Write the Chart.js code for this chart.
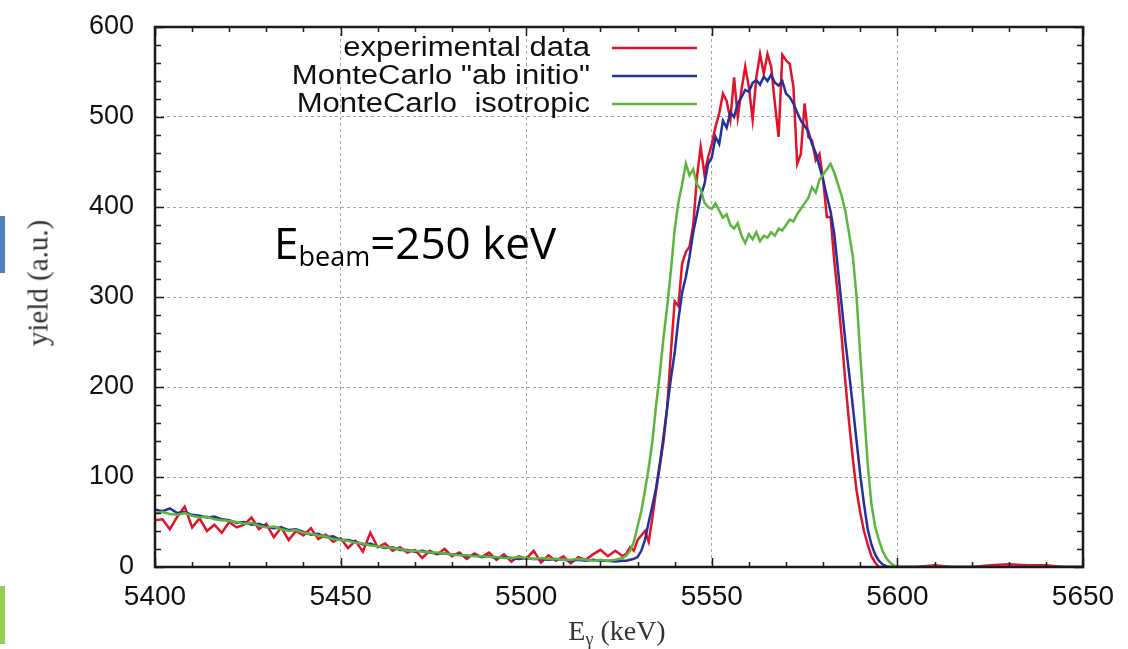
<!DOCTYPE html>
<html>
<head>
<meta charset="utf-8">
<script src="https://cdn.jsdelivr.net/npm/chart.js@4.4.1/dist/chart.umd.min.js"></script>
<style>
  html, body { margin: 0; padding: 0; background: #fff; }
  #wrap { position: relative; width: 1128px; height: 649px; overflow: hidden; }
  #c { position: absolute; left: 0; top: 0; }
  .ytitle { position: absolute; left: 38px; top: 283px; transform: translate(-50%, -50%) rotate(-90deg);
            font: 29px "Liberation Serif", serif; color: #333; white-space: nowrap; }
  .xtitle { position: absolute; left: 617px; top: 632px; transform: translate(-50%, -50%);
            font: 28px "Liberation Serif", serif; color: #333; white-space: nowrap; }
  .xtitle sub { font-size: 18px; vertical-align: -5px; }
  .note { position: absolute; left: 274px; top: 220px; font: 44px "Open Sans", sans-serif; line-height: 44px;
          color: #000; white-space: nowrap; }
  .note .sb { font-size: 27px; vertical-align: -7px; }
  .bar1 { position: absolute; left: 0; top: 216px; width: 5px; height: 57px; background: #4f81bd; }
  .bar2 { position: absolute; left: 0; top: 586px; width: 5px; height: 58px; background: #92d050; }
</style>
</head>
<body>
<div id="wrap">
  <canvas id="c" width="1128" height="649"></canvas>
  <div class="bar1"></div>
  <div class="bar2"></div>
  <div class="ytitle">yield (a.u.)</div>
  <div class="xtitle">E<sub>γ</sub> (keV)</div>
  <div class="note">E<span class="sb">beam</span>=250 keV</div>
</div>
<script>
// photon energy (keV): 2 keV bins on the tail, 1 keV across the peak
const energy = [
  5400, 5402, 5404, 5406, 5408, 5410, 5412, 5414,
  5416, 5418, 5420, 5422, 5424, 5426, 5428, 5430,
  5432, 5434, 5436, 5438, 5440, 5442, 5444, 5446,
  5448, 5450, 5452, 5454, 5456, 5458, 5460, 5462,
  5464, 5466, 5468, 5470, 5472, 5474, 5476, 5478,
  5480, 5482, 5484, 5486, 5488, 5490, 5492, 5494,
  5496, 5498, 5500, 5502, 5504, 5506, 5508, 5510,
  5512, 5514, 5516, 5518, 5520, 5522, 5524, 5526,
  5527, 5528, 5529, 5530, 5531, 5532, 5533, 5534, 5535, 5536,
  5537, 5538, 5539, 5540, 5541, 5542, 5543, 5544, 5545, 5546,
  5547, 5548, 5549, 5550, 5551, 5552, 5553, 5554, 5555, 5556,
  5557, 5558, 5559, 5560, 5561, 5562, 5563, 5564, 5565, 5566,
  5567, 5568, 5569, 5570, 5571, 5572, 5573, 5574, 5575, 5576,
  5577, 5578, 5579, 5580, 5581, 5582, 5583, 5584, 5585, 5586,
  5587, 5588, 5589, 5590, 5591, 5592, 5593, 5594, 5595, 5596,
  5597, 5598, 5599, 5600,
  5605, 5610, 5615, 5620, 5625, 5630, 5635, 5640, 5645, 5650
];

const experimental = [
  52, 53, 42, 56, 67, 44, 54, 40,
  47, 38, 50, 44, 47, 55, 42, 48,
  33, 44, 30, 40, 35, 43, 31, 36,
  28, 32, 21, 29, 17, 38, 22, 26,
  18, 22, 16, 19, 10, 18, 14, 20,
  12, 16, 9, 15, 11, 16, 8, 14,
  6, 12, 9, 18, 5, 13, 7, 12,
  4, 11, 8, 14, 19, 12, 18, 12,
  15, 22, 18, 30, 35, 40, 28, 55, 85, 112,
  140, 178, 240, 295, 290, 337, 350, 356, 380, 433,
  467, 437, 455, 470, 489, 504, 526, 518, 497, 544,
  500, 530, 556, 533, 497, 544, 570, 548, 570, 556,
  515, 478, 569, 563, 559, 533, 448, 459, 515, 478,
  474, 452, 459, 430, 389, 389, 340, 300, 255, 205,
  160, 120, 85, 60, 40, 25, 12, 5, 0, 0,
  0, 0, 0, 0,
  0, 2, 0, 0, 2, 3, 2, 2, 0, 0
];

const abInitio = [
  64, 62, 65, 60, 61, 58, 57, 55,
  56, 53, 52, 49, 50, 47, 48, 45,
  43, 44, 41, 42, 39, 36, 37, 33,
  34, 30, 30, 28, 25, 26, 23, 21,
  22, 19, 19, 17, 18, 16, 15, 15,
  14, 14, 12, 13, 11, 12, 10, 11,
  10, 9, 10, 9, 9, 8, 9, 8,
  7, 8, 7, 8, 7, 7, 6, 7,
  7, 8, 9, 11, 18, 30, 50, 68, 88, 115,
  145, 178, 210, 238, 275, 305, 322, 345, 372, 392,
  412, 425, 448, 455, 478, 470, 496, 488, 505, 500,
  515, 522, 530, 528, 538, 541, 536, 545, 540, 547,
  538, 535, 540, 526, 522, 515, 505, 496, 490, 484,
  470, 460, 445, 430, 412, 395, 370, 330, 290, 250,
  215, 178, 140, 102, 70, 42, 25, 14, 7, 3,
  1, 0, 0, 0,
  0, 0, 0, 0, 0, 0, 0, 0, 0, 0
];

const isotropic = [
  60, 61, 59, 58, 60, 57, 55, 56,
  53, 52, 51, 50, 48, 49, 46, 44,
  45, 42, 40, 41, 38, 37, 35, 34,
  31, 30, 29, 27, 26, 24, 23, 22,
  21, 20, 18, 18, 17, 16, 16, 15,
  14, 13, 13, 12, 12, 11, 11, 10,
  10, 11, 10, 9, 10, 9, 9, 8,
  8, 9, 8, 7, 8, 7, 8, 10,
  13, 18, 28, 45, 62, 85, 110, 140, 180, 215,
  255, 290, 330, 375, 405, 425, 448, 435, 442, 425,
  420, 405, 400, 398, 404, 396, 388, 392, 380, 376,
  382, 368, 360, 370, 364, 372, 362, 368, 366, 372,
  368, 376, 374, 380, 386, 384, 392, 398, 404, 410,
  422, 416, 430, 436, 442, 448, 438, 425, 412, 395,
  370, 345, 300, 235, 175, 115, 70, 45, 30, 18,
  10, 5, 2, 0,
  0, 0, 0, 0, 0, 0, 0, 0, 0, 0
];

const xTickLabels = [5400, 5450, 5500, 5550, 5600, 5650];
const yTickLabels = [0, 100, 200, 300, 400, 500, 600];

const toPoints = ys => ys.map((v, i) => ({ x: energy[i], y: v }));

// gnuplot style frame: inward ticks on all four sides + key with text before the line
const gnuplotFrame = {
  id: 'gnuplotFrame',
  afterDraw(chart) {
    const { ctx, chartArea: a, scales: { x, y } } = chart;
    ctx.save();
    ctx.strokeStyle = '#1a1a1a';
    ctx.lineWidth = 1.5;
    ctx.beginPath();
    x.ticks.forEach(t => {
      const px = Math.round(x.getPixelForValue(t.value)) + 0.5;
      const len = xTickLabels.includes(t.value) ? 9 : 5;
      ctx.moveTo(px, a.bottom); ctx.lineTo(px, a.bottom - len);
      ctx.moveTo(px, a.top); ctx.lineTo(px, a.top + len);
    });
    y.ticks.forEach(t => {
      const py = Math.round(y.getPixelForValue(t.value)) + 0.5;
      const len = yTickLabels.includes(t.value) ? 9 : 6;
      ctx.moveTo(a.left, py); ctx.lineTo(a.left + len, py);
      ctx.moveTo(a.right, py); ctx.lineTo(a.right - len, py);
    });
    ctx.stroke();
    ctx.lineWidth = 2.5;
    ctx.strokeRect(a.left, a.top, a.right - a.left, a.bottom - a.top);

    // key
    const textRight = 590, lineX0 = 612, lineX1 = 697;
    ctx.font = '27px "Liberation Sans", Arial, sans-serif';
    ctx.textAlign = 'right';
    ctx.textBaseline = 'middle';
    chart.data.datasets.forEach((ds, i) => {
      const ly = 48 + i * 28;
      ctx.save();
      ctx.translate(textRight, ly + 1);
      ctx.scale(1.15, 1);
      ctx.fillStyle = '#111';
      ctx.fillText(ds.label, 0, 0);
      ctx.restore();
      ctx.strokeStyle = ds.borderColor;
      ctx.lineWidth = ds.borderWidth;
      ctx.beginPath();
      ctx.moveTo(lineX0, ly);
      ctx.lineTo(lineX1, ly);
      ctx.stroke();
    });
    ctx.restore();
  }
};

const ctx = document.getElementById('c').getContext('2d');
const chart = new Chart(ctx, {
  type: 'line',
  data: {
    datasets: [{
      label: 'experimental data',
      data: toPoints(experimental),
      borderColor: 'rgb(226, 18, 42)',
      borderWidth: 2.5,
      order: 3
    }, {
      label: 'MonteCarlo "ab initio"',
      data: toPoints(abInitio),
      borderColor: 'rgb(36, 48, 156)',
      borderWidth: 2.5,
      order: 2
    }, {
      label: 'MonteCarlo  isotropic',
      data: toPoints(isotropic),
      borderColor: 'rgb(92, 182, 60)',
      borderWidth: 2.5,
      order: 1
    }]
  },
  options: {
    responsive: false,
    animation: false,
    devicePixelRatio: 1,
    layout: { padding: { left: 0, right: 45, top: 27, bottom: 0 } },
    elements: { point: { radius: 0 }, line: { tension: 0 } },
    plugins: { legend: { display: false }, tooltip: { enabled: false } },
    scales: {
      x: {
        type: 'linear',
        min: 5400,
        max: 5650,
        afterFit: s => { s.height = 82; },
        border: { display: false, dash: [3, 3] },
        grid: {
          drawTicks: false,
          lineWidth: 1,
          color: c => (xTickLabels.includes(c.tick.value) && c.tick.value !== 5400 && c.tick.value !== 5650) ? '#a6a6a6' : 'rgba(0,0,0,0)'
        },
        ticks: {
          stepSize: 10,
          maxTicksLimit: 100,
          autoSkip: false,
          maxRotation: 0,
          padding: 13,
          color: '#111',
          font: { family: '"Liberation Sans", Arial, sans-serif', size: 28 },
          callback: v => xTickLabels.includes(v) ? String(v) : ''
        }
      },
      y: {
        min: 0,
        max: 600,
        afterFit: s => { s.width = 155; s.paddingTop = 0; s.paddingBottom = 0; },
        border: { display: false, dash: [3, 3] },
        grid: {
          drawTicks: false,
          lineWidth: 1,
          color: c => (yTickLabels.includes(c.tick.value) && c.tick.value !== 0 && c.tick.value !== 600) ? '#a6a6a6' : 'rgba(0,0,0,0)'
        },
        ticks: {
          stepSize: 20,
          maxTicksLimit: 100,
          autoSkip: false,
          padding: 21,
          color: '#111',
          font: { family: '"Liberation Sans", Arial, sans-serif', size: 27 },
          callback: v => yTickLabels.includes(v) ? String(v) : ''
        }
      }
    }
  },
  plugins: [gnuplotFrame]
});
</script>
</body>
</html>
